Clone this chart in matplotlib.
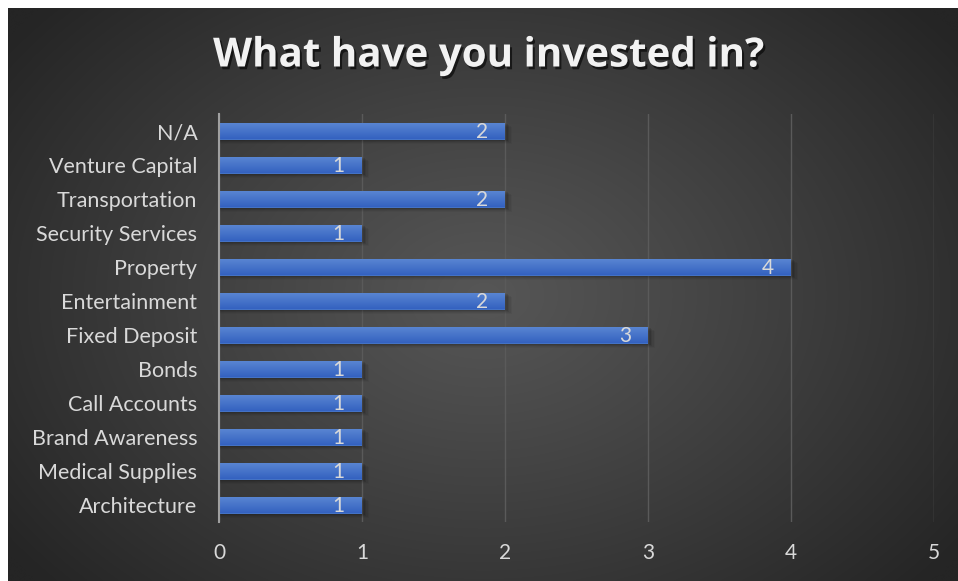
import numpy as np
import matplotlib
matplotlib.use("Agg")
import matplotlib.pyplot as plt
import matplotlib.patheffects as pe

categories = ["Architecture", "Medical Supplies", "Brand Awareness", "Call Accounts",
              "Bonds", "Fixed Deposit", "Entertainment", "Property",
              "Security Services", "Transportation", "Venture Capital", "N/A"]
counts = [1, 1, 1, 1, 1, 3, 2, 4, 1, 2, 1, 2]
x_ticks = [0, 1, 2, 3, 4, 5]
title = "What have you invested in?"

plt.rcParams["font.family"] = ["Lato", "DejaVu Sans"]
text_color = "#d9d9d9"

fig = plt.figure(figsize=(9.58, 5.81), dpi=100, facecolor="white")

# radial gradient backdrop
bg = fig.add_axes([8 / 958, 0, 950 / 958, 573 / 581])
bg.set_axis_off()
h, w = 300, 500
yy, xx = np.mgrid[0:h, 0:w]
cx, cy = w * 0.50, h * 0.50
r = np.sqrt(((xx - cx) / (w * 0.62)) ** 2 + ((yy - cy) / (h * 0.75)) ** 2)
r = np.clip(r, 0, 1)
inner, outer = 0x56 / 255, 0x25 / 255
val = inner + (outer - inner) * r ** 1.1
img = np.dstack([val, val, val])
bg.imshow(img, aspect="auto", extent=[0, 1, 0, 1], interpolation="bicubic")
bg.set_xlim(0, 1)
bg.set_ylim(0, 1)

ax = fig.add_axes([219 / 958, 59 / 581, 715 / 958, 408 / 581])
ax.patch.set_alpha(0)

y = np.arange(len(categories))
bars = ax.barh(y, counts, height=0.5, color="#4472c4", zorder=3)

# soft drop shadow under each bar
for b in bars:
    for k, a in enumerate([0.10, 0.08, 0.06, 0.04]):
        d = 0.03 + 0.03 * k
        ax.add_patch(plt.Rectangle((b.get_x() + 0.01, b.get_y() - d), b.get_width() + 0.01 * (k + 1),
                                   b.get_height(), color="black", alpha=a, zorder=2, lw=0))

# vertical gradient fill on bars
grad = np.linspace(0, 1, 50).reshape(-1, 1)
top_c = np.array([0x5b, 0x87, 0xd3]) / 255
bot_c = np.array([0x34, 0x62, 0xc0]) / 255
gimg = top_c[None, None, :] * (1 - grad[:, :, None]) + bot_c[None, None, :] * grad[:, :, None]
for b in bars:
    x0, y0, bw, bh = b.get_x(), b.get_y(), b.get_width(), b.get_height()
    im = ax.imshow(gimg, extent=[x0, x0 + bw, y0, y0 + bh], origin="upper",
                   aspect="auto", zorder=4, interpolation="bilinear")
    im.set_clip_path(b)

for yi, v in zip(y, counts):
    ax.text(v - 0.12, yi - 0.04, str(v), ha="right", va="center", color=text_color,
            fontsize=15, zorder=5)

ax.set_xlim(0, 5)
ax.set_ylim(-0.5, len(categories) - 0.5)
ax.set_xticks(x_ticks)
ax.set_xticklabels([str(t) for t in x_ticks], color=text_color, fontsize=15)
ax.set_yticks(y)
ax.set_yticklabels(categories, color=text_color, fontsize=15.5)
ax.tick_params(axis="both", length=0)
ax.tick_params(axis="x", pad=15)
ax.tick_params(axis="y", pad=15.5)
ax.grid(axis="x", color="#5a5a5a", lw=1.0, zorder=1)
for s in ["top", "right", "bottom"]:
    ax.spines[s].set_visible(False)
ax.spines["left"].set_color("#a0a0a0")
ax.spines["left"].set_linewidth(1.5)
ax.spines["left"].set_zorder(6)

fig.text(488 / 958, 1 - 56 / 581, title, ha="center", va="center", color="#f2f2f2",
         fontsize=29, fontweight="bold", family=["Open Sans", "DejaVu Sans"],
         path_effects=[pe.withSimplePatchShadow(offset=(1.5, -2), shadow_rgbFace="black", alpha=0.6)])

fig.savefig("out.png", dpi=100, facecolor="white")
